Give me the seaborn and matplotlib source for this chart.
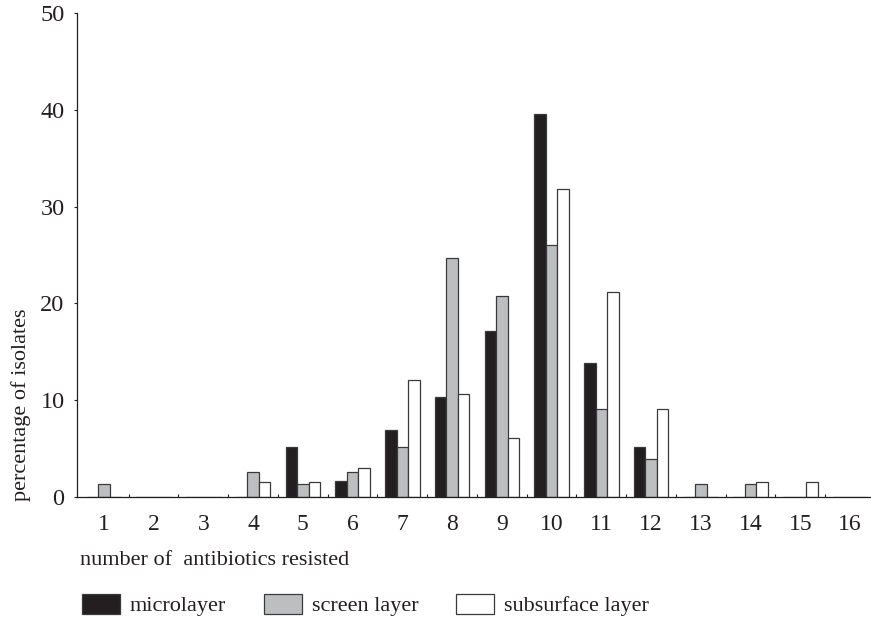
import matplotlib
matplotlib.use("Agg")
import matplotlib.pyplot as plt
import seaborn as sns
import pandas as pd

categories = [str(i) for i in range(1, 17)]
microlayer = [0, 0, 0, 0, 5.2, 1.7, 6.9, 10.3, 17.2, 39.6, 13.8, 5.2, 0, 0, 0, 0]
screen_layer = [1.3, 0, 0, 2.6, 1.3, 2.6, 5.2, 24.7, 20.8, 26.0, 9.1, 3.9, 1.3, 1.3, 0, 0]
subsurface_layer = [0, 0, 0, 1.5, 1.5, 3.0, 12.1, 10.6, 6.1, 31.8, 21.2, 9.1, 0, 1.5, 1.5, 0]
series_names = ["microlayer", "screen layer", "subsurface layer"]
y_ticks = [0, 10, 20, 30, 40, 50]

rows = []
for name, vals in zip(series_names, [microlayer, screen_layer, subsurface_layer]):
    for c, v in zip(categories, vals):
        rows.append({"n": c, "pct": v, "layer": name})
df = pd.DataFrame(rows)

sns.set_style("white")
plt.rcParams["font.family"] = ["Liberation Serif", "DejaVu Serif"]
ink = "#231f20"
plt.rcParams["text.color"] = ink

W, H = 871, 617
fig = plt.figure(figsize=(W / 100, H / 100), dpi=100)
ax = fig.add_axes([77 / W, (H - 497) / H, (870 - 77) / W, (497 - 13) / H])

palette = {"microlayer": "#231f20", "screen layer": "#bcbec0", "subsurface layer": "#ffffff"}
sns.barplot(data=df, x="n", y="pct", hue="layer", order=categories,
            hue_order=series_names, palette=palette, width=0.69,
            edgecolor="#3a3a3a", linewidth=0.9, saturation=1, ax=ax, errorbar=None)

ax.set_xlim(-0.54, 15.40)
ax.set_ylim(0, 50)
ax.set_yticks(y_ticks)
ax.set_yticklabels([str(t) for t in y_ticks])
ax.set_xticks(range(len(categories)))
ax.set_xticklabels(categories)
ax.set_xticks([i + 0.5 for i in range(15)], minor=True)
ax.tick_params(axis="x", which="major", length=0, pad=12.5, labelsize=17, labelcolor=ink)
ax.tick_params(axis="x", which="minor", direction="in", length=2.5, width=0.8, color=ink, bottom=True)
ax.tick_params(axis="y", which="major", direction="out", length=2.5, width=0.8, pad=6.5,
               labelsize=17.5, labelcolor=ink, left=True, color=ink)
ax.set_xlabel("")
ax.set_ylabel("")
for s in ["top", "right"]:
    ax.spines[s].set_visible(False)
for s in ["left", "bottom"]:
    ax.spines[s].set_color(ink)
    ax.spines[s].set_linewidth(0.9)

fig.text(80 / W, (H - 565) / H, "number of  antibiotics resisted", ha="left", va="baseline",
         fontsize=16, color=ink)
fig.text(21 / W, (H - 405) / H, "percentage of isolates", rotation=90, ha="center", va="center",
         fontsize=16, color=ink)

sns.move_legend(ax, loc="center left", bbox_to_anchor=(82 / W, 12 / H),
                bbox_transform=fig.transFigure, ncol=3, frameon=False, title=None,
                fontsize=16, handlelength=1.71, handleheight=1.04, handletextpad=0.45,
                columnspacing=1.7, borderpad=0, borderaxespad=0)

fig.savefig("out.png", dpi=100)
